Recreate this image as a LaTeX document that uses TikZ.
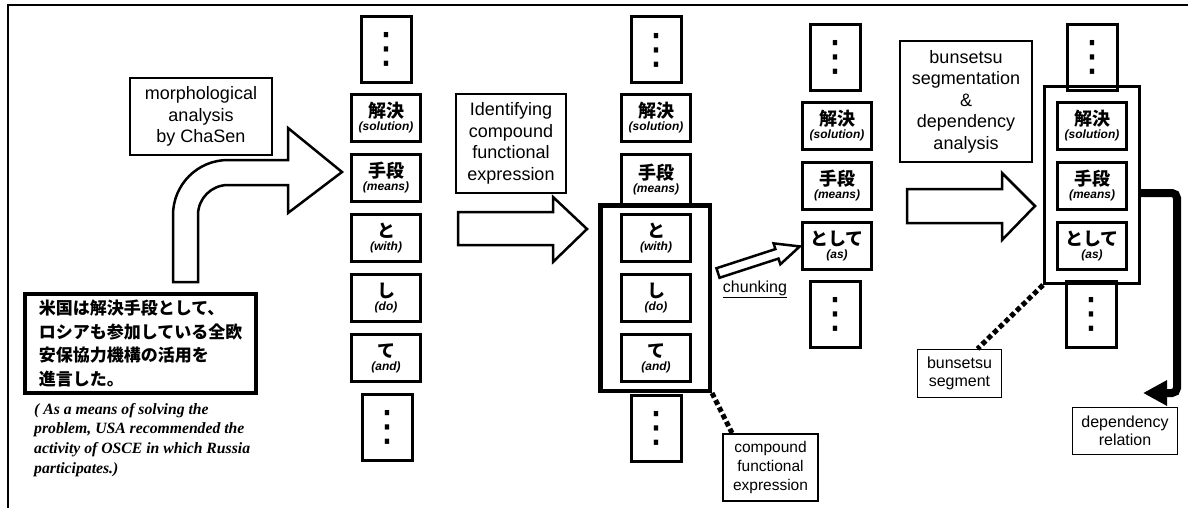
\documentclass[tikz,border=0pt]{standalone}
\usepackage{fontspec}
\setmainfont{Liberation Sans}
\newfontfamily\jpfont{Noto Sans CJK JP}
\newfontfamily\capfont{Liberation Serif}
\newfontfamily\symfont{DejaVu Sans}
\usetikzlibrary{arrows.meta,calc}
\newcommand{\wordtxt}[2]{{\jpfont\bfseries\fontsize{18}{18}\selectfont #1}\\{\bfseries\itshape (#2)}}
\tikzset{
  wordbox/.style={draw, line width=3.5pt, minimum width=69pt, minimum height=47pt, inner sep=0pt, align=center, font=\fontsize{12}{13}\selectfont},
  dotsbox/.style={draw, line width=3pt, minimum width=50pt, minimum height=66pt, inner sep=0pt, align=center, font=\symfont\fontsize{42}{42}\selectfont},
  labelbox/.style={draw, line width=2pt, inner sep=0pt, align=center, font=\fontsize{18}{21.5}\selectfont},
  smallbox/.style={draw, line width=1.3pt, inner sep=0pt, align=center, font=\fontsize{16}{18.5}\selectfont},
  blockarrow/.style={draw, line width=2.5pt, fill=white, line join=miter},
  dotline/.style={line width=5pt, dash pattern=on 5pt off 3pt},
  frameline/.style={line width=2pt}
}
\begin{document}
\begin{tikzpicture}[x=1pt,y=-1pt]
\useasboundingbox (0,0) rectangle (1188,508);
\draw[frameline] (8,508) -- (8,5) -- (1188,5);

% ---------- column 1 ----------
\node[dotsbox] (c1top) at (386.5,49.5) {⋮};
\node[wordbox] (c1a) at (386,118) {\wordtxt{解決}{solution}};
\node[wordbox] (c1b) at (386,178) {\wordtxt{手段}{means}};
\node[wordbox] (c1c) at (386,238) {\wordtxt{と}{with}};
\node[wordbox] (c1d) at (386,298) {\wordtxt{し}{do}};
\node[wordbox] (c1e) at (386,358) {\wordtxt{て}{and}};
\node[dotsbox] (c1bot) at (387,427.5) {⋮};

% ---------- column 2 ----------
\node[dotsbox] (c2top) at (656.5,50) {⋮};
\node[wordbox] (c2a) at (656,118) {\wordtxt{解決}{solution}};
\node[wordbox, minimum height=50pt] (c2b) at (656,179.5) {\wordtxt{手段}{means}};
\node[draw, line width=4.5pt, minimum width=109.5pt, minimum height=185.5pt, inner sep=0pt] (c2f) at (655,298) {};
\node[wordbox] (c2c) at (656,238) {\wordtxt{と}{with}};
\node[wordbox] (c2d) at (656,298) {\wordtxt{し}{do}};
\node[wordbox] (c2e) at (656,358) {\wordtxt{て}{and}};
\node[dotsbox] (c2bot) at (656.5,428.5) {⋮};

% ---------- column 3 ----------
\node[dotsbox] (c3top) at (835,57.5) {⋮};
\node[wordbox] (c3a) at (837,126) {\wordtxt{解決}{solution}};
\node[wordbox] (c3b) at (837,186) {\wordtxt{手段}{means}};
\node[wordbox] (c3c) at (837,246) {\wordtxt{として}{as}};
\node[dotsbox] (c3bot) at (835,314) {⋮};

% ---------- column 4 ----------
\node[draw, line width=3pt, minimum width=95pt, minimum height=197pt, inner sep=0pt] (c4f) at (1092,185) {};
\node[dotsbox] (c4top) at (1092.5,57.5) {⋮};
\node[wordbox] (c4a) at (1092,126) {\wordtxt{解決}{solution}};
\node[wordbox] (c4b) at (1092,186) {\wordtxt{手段}{means}};
\node[wordbox] (c4c) at (1092,246) {\wordtxt{として}{as}};
\node[dotsbox] (c4bot) at (1091.5,314) {⋮};

% ---------- labels ----------
\node[labelbox, minimum width=142pt, minimum height=77pt] (ma) at (201,116.5) {morphological\\analysis\\by ChaSen};
\node[labelbox, minimum width=110pt, minimum height=99pt] (idf) at (511,143.5) {Identifying\\compound\\functional\\expression};
\node[labelbox, minimum width=132pt, minimum height=121pt] (bda) at (966,101.5) {bunsetsu\\segmentation\\\&\\dependency\\analysis};
\node[draw, line width=4pt, minimum width=231pt, minimum height=99pt, inner sep=0pt, align=left,
      font=\jpfont\bfseries\fontsize{17}{23.5}\selectfont] (sent) at (140.5,343.5)
  {米国は解決手段として、\\ロシアも参加している全欧\\安保協力機構の活用を\\進言した。};
\node[anchor=north west, inner sep=0pt, align=left, font=\capfont\bfseries\itshape\fontsize{15.7}{19.7}\selectfont] (cap) at (34,403)
  {( As a means of solving the\\problem, USA recommended the\\activity of OSCE in which Russia\\participates.)};
\node[draw, line width=2pt, inner sep=0pt, align=center, minimum width=95pt, minimum height=67pt,
      font=\fontsize{15.5}{19}\selectfont] (cfe) at (770.5,467.5) {compound\\functional\\expression};
\node[smallbox, minimum width=84pt, minimum height=48pt] (bs) at (959.5,373.5) {bunsetsu\\segment};
\node[smallbox, minimum width=105pt, minimum height=47pt] (dr) at (1125,431) {dependency\\relation};
\node[inner sep=0pt, font=\fontsize{16}{18}\selectfont] (chk) at (755,289) {\underline{chunking}};

% ---------- block arrows ----------
\draw[blockarrow] (173,282) -- (173,215) .. controls (173,184.6) and (197.6,160) .. (228,160)
  -- (288,160) -- (288,128) -- (342,172) -- (288,213) -- (288,185) -- (228,185)
  .. controls (211.4,185) and (198,198.4) .. (198,215) -- (198,282) -- cycle;
\draw[blockarrow] (458,212) -- (553,212) -- (553,197) -- (587,229) -- (553,262) -- (553,245) -- (458,245) -- cycle;
\draw[blockarrow] (907,189) -- (1002,189) -- (1002,173) -- (1035,206) -- (1002,240) -- (1002,223) -- (907,223) -- cycle;
\begin{scope}[shift={(718,273)}, rotate=18]
\draw[blockarrow] (0,-5) -- (62,-5) -- (62,-11) -- (86,0) -- (62,11) -- (62,5) -- (0,5) -- cycle;
\end{scope}

% ---------- connectors ----------
\draw[dotline] (c2f.south east) -- ($(cfe.north west)+(10,0)$);
\draw[dotline] (c4f.south west) -- ($(bs.north)+(18,0)$);
\coordinate (dc1) at (1177,193);
\coordinate (dc2) at (1177,393);
\coordinate (dtip) at (1143,393);
\draw[line width=8pt, rounded corners=5pt, -{Triangle[length=24pt,width=24pt]}]
  ($(c4f.east)+(0,8)$) -- (dc1) -- (dc2) -- (dtip);
\end{tikzpicture}
\end{document}
